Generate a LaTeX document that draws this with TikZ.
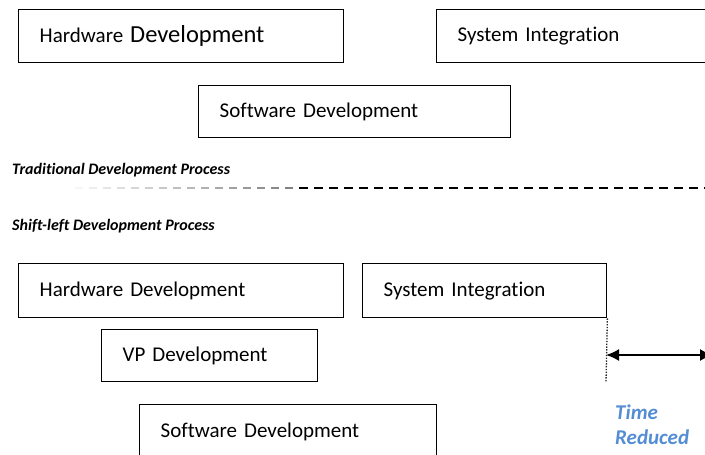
\documentclass[tikz,border=0pt]{standalone}
\usepackage{fontspec}
\setmainfont{Carlito}[Ligatures=CommonOff]
\usetikzlibrary{arrows.meta}
\definecolor{timeblue}{RGB}{84,141,212}
\begin{document}
\begin{tikzpicture}[x=1pt,y=-1pt,
  stage/.style={draw=black, line width=1.4pt, rectangle, inner xsep=21pt, inner ysep=0pt,
    align=left, anchor=north west, font=\fontsize{21}{24}\selectfont},
  phase/.style={anchor=base west, inner sep=0pt,
    font=\fontsize{16}{19}\selectfont\bfseries\itshape},
  gap/.style={line width=1.8pt,
    {Latex[length=13pt,width=12pt]}-{Latex[length=13pt,width=12pt]}},
]
\useasboundingbox (0,0) rectangle (705,455);
\clip (0,0) rectangle (705,455);

% traditional flow
\node[stage, text width=283pt, minimum height=53pt] (hwA) at (18,9)
  {Hardware {\fontsize{24.5}{28}\selectfont Development}};
\node[stage, text width=300pt, minimum height=53pt] (siA) at (436,9) {System Integration};
\node[stage, text width=270pt, minimum height=52pt] (swA) at (198,85) {Software Development};

\node[phase] (trad) at (12,174) {Traditional Development Process};

% separator: faint dashes growing darker, then solid black dashes
\foreach \i in {0,...,15}
  \draw[line width=1.2pt, black!\the\numexpr 4+3*\i\relax] (75+14*\i,188) -- ++(8,0);
\coordinate (dashM) at (299,188);
\coordinate (dashR) at (705,188);
\draw[line width=2.2pt, dash pattern=on 9pt off 6pt] (dashM) -- (dashR);

% shift-left flow
\node[phase] (shift) at (12,230) {Shift-left Development Process};

\node[stage, text width=283pt, minimum height=54pt] (hwB) at (18,263) {Hardware Development};
\node[stage, text width=202pt, minimum height=54pt] (siB) at (362,263) {System Integration};
\node[stage, text width=174pt, minimum height=52pt] (vp) at (101,329) {VP Development};
\node[stage, text width=255pt, minimum height=54pt] (swB) at (139,404) {Software Development};

% time gained
\coordinate (dotEnd) at (606,382);
\draw[line width=1.3pt, black!85, dash pattern=on 1.4pt off 1.4pt] (siB.south east) -- (dotEnd);
\coordinate (gapL) at (606,355);
\coordinate (gapR) at (713,355);
\draw[gap] (gapL) -- (gapR);

\node[anchor=base west, align=left, inner sep=0pt, text=timeblue,
  font=\fontsize{21}{25}\selectfont\bfseries\itshape] (saved) at (615,444) {Time\\Reduced};
\end{tikzpicture}
\end{document}
